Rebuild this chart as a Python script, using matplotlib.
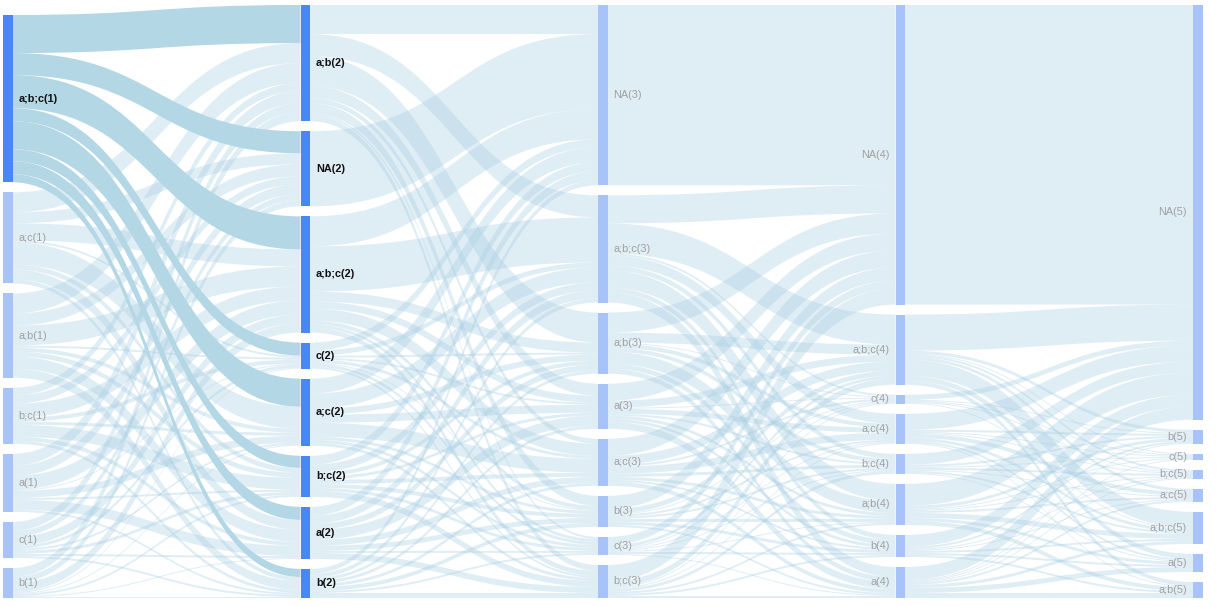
import matplotlib
matplotlib.use("Agg")
import matplotlib.pyplot as plt
from matplotlib.path import Path
from matplotlib.patches import PathPatch, Rectangle

# Node names per step (top to bottom)
col1_nodes = ["a;b;c", "a;c", "a;b", "b;c", "a", "c", "b"]
col2_nodes = ["a;b", "NA", "a;b;c", "c", "a;c", "b;c", "a", "b"]
col3_nodes = ["NA", "a;b;c", "a;b", "a", "a;c", "b", "c", "b;c"]
col4_nodes = ["NA", "a;b;c", "c", "a;c", "b;c", "a;b", "b", "a"]
col5_nodes = ["NA", "b", "c", "b;c", "a;c", "a;b;c", "a", "a;b"]

# Flow matrices: rows = source nodes, columns = target nodes
flows_1_2 = [
    [38, 22, 33, 13, 28, 12, 13, 8],
    [20, 11, 17, 2, 22, 5, 10, 4],
    [20, 12, 20, 2, 4, 5, 12, 9],
    [8, 8, 14, 4, 3, 12, 4, 3],
    [12, 10, 14, 1, 7, 2, 10, 2],
    [9, 6, 9, 3, 2, 3, 2, 2],
    [9, 6, 9, 1, 1, 2, 1, 1],
]
flows_2_3 = [
    [29, 22, 30, 12, 5, 10, 2, 6],
    [75, 0, 0, 0, 0, 0, 0, 0],
    [30, 45, 10, 7, 12, 4, 3, 5],
    [8, 5, 2, 2, 3, 1, 3, 2],
    [15, 15, 6, 8, 14, 3, 3, 3],
    [9, 8, 4, 3, 4, 4, 3, 6],
    [9, 8, 6, 10, 6, 5, 2, 6],
    [5, 4, 3, 3, 3, 4, 2, 5],
]
flows_3_4 = [
    [180, 0, 0, 0, 0, 0, 0, 0],
    [28, 30, 2, 10, 5, 17, 5, 10],
    [20, 10, 1, 4, 4, 12, 5, 5],
    [17, 7, 1, 5, 2, 3, 3, 7],
    [17, 9, 2, 7, 3, 3, 2, 4],
    [13, 5, 1, 2, 2, 3, 3, 2],
    [8, 3, 1, 1, 1, 1, 2, 1],
    [16, 6, 1, 1, 3, 2, 2, 2],
]
flows_4_5 = [
    [299, 0, 0, 0, 0, 0, 0, 0],
    [36, 3, 1, 2, 3, 16, 5, 4],
    [5, 1, 1, 1, 0, 1, 0, 0],
    [16, 2, 1, 1, 4, 3, 2, 1],
    [11, 2, 1, 2, 1, 2, 1, 0],
    [22, 3, 1, 1, 2, 5, 3, 4],
    [12, 2, 0, 1, 1, 2, 2, 2],
    [13, 1, 1, 1, 2, 3, 5, 5],
]

columns = [col1_nodes, col2_nodes, col3_nodes, col4_nodes, col5_nodes]
transitions = [flows_1_2, flows_2_3, flows_3_4, flows_4_5]

# highlighted selection: a;b;c at step 1 and its targets
selected = (0, 0)

W, H = 1219, 607
node_w = 9.5
gap = 10
bottom = 598
x_left = [3 + i * 297.5 for i in range(5)]

# node values = max(in, out)
values = []
for c, names in enumerate(columns):
    vals = []
    for k in range(len(names)):
        out_v = sum(transitions[c][k]) if c < 4 else 0
        in_v = sum(row[k] for row in transitions[c - 1]) if c > 0 else 0
        vals.append(max(out_v, in_v))
    values.append(vals)

max_nodes = max(len(n) for n in columns)
scale = (bottom - 5 - gap * (max_nodes - 1)) / max(sum(v) for v in values)

tops = []
for vals in values:
    span = sum(vals) * scale + gap * (len(vals) - 1)
    y = bottom - span
    t = []
    for v in vals:
        t.append(y)
        y += v * scale + gap
    tops.append(t)

fig = plt.figure(figsize=(W / 100, H / 100), dpi=100)
ax = fig.add_axes([0, 0, 1, 1])
ax.set_xlim(0, W)
ax.set_ylim(H, 0)
ax.axis("off")


def ribbon(x0, y0, x1, y1, w, color, alpha, z):
    xm = (x0 + x1) / 2
    verts = [(x0, y0), (xm, y0), (xm, y1), (x1, y1),
             (x1, y1 + w), (xm, y1 + w), (xm, y0 + w), (x0, y0 + w),
             (x0, y0)]
    codes = [Path.MOVETO, Path.CURVE4, Path.CURVE4, Path.CURVE4,
             Path.LINETO, Path.CURVE4, Path.CURVE4, Path.CURVE4,
             Path.CLOSEPOLY]
    ax.add_patch(PathPatch(Path(verts, codes), facecolor=color,
                           edgecolor="none", alpha=alpha, zorder=z))


highlight_targets = set()
for c, F in enumerate(transitions):
    n_src = len(F)
    n_tgt = len(F[0])
    src_off = [0.0] * n_src
    tgt_off = [0.0] * n_tgt
    x0 = x_left[c] + node_w
    x1 = x_left[c + 1]
    for i in range(n_src):
        for j in range(n_tgt):
            v = F[i][j]
            if v <= 0:
                continue
            y0 = tops[c][i] + src_off[i]
            y1 = tops[c + 1][j] + sum(F[k][j] for k in range(i)) * scale
            w = v * scale
            src_off[i] += w
            if (c, i) == selected:
                ribbon(x0, y0, x1, y1, w, "#b3d7e5", 1.0, 3)
                highlight_targets.add((c + 1, j))
            else:
                ribbon(x0, y0, x1, y1, w, "#a6cee3", 0.35, 2)

for c, names in enumerate(columns):
    for k, name in enumerate(names):
        hl = (c, k) == selected or (c, k) in highlight_targets
        h = values[c][k] * scale
        ax.add_patch(Rectangle((x_left[c], tops[c][k]), node_w, h,
                               facecolor="#4a86f5" if hl else "#a8c3f9",
                               edgecolor="none", zorder=4))
        label = f"{name}({c + 1})"
        yc = tops[c][k] + h / 2
        if c < 3:
            tx, ha = x_left[c] + node_w + 6, "left"
        else:
            tx, ha = x_left[c] - 6, "right"
        ax.text(tx, yc, label, ha=ha, va="center", fontsize=7.8,
                family=["Liberation Sans", "DejaVu Sans"],
                color="#111111" if hl else "#a0a0a0",
                fontweight="bold" if hl else "normal", zorder=5)

fig.savefig("out.png", dpi=100)
